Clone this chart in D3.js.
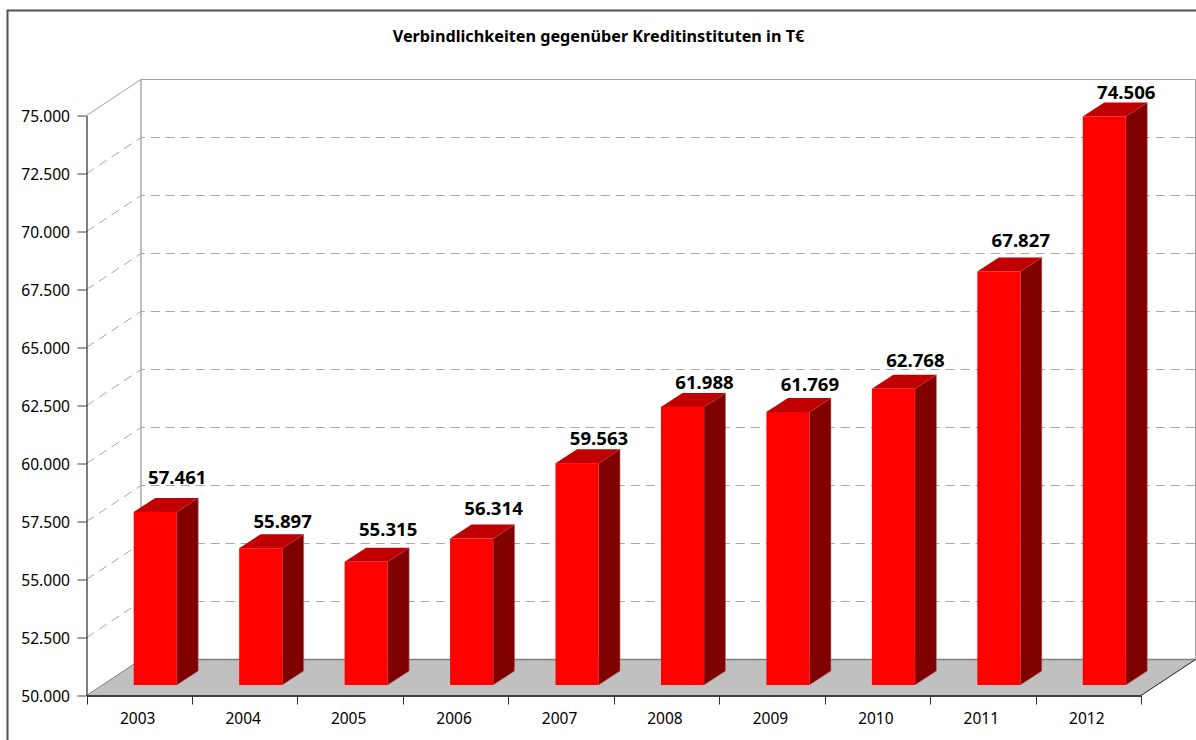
<!DOCTYPE html>
<html>
<head>
<meta charset="utf-8">
<script src="https://cdn.jsdelivr.net/npm/d3@7"></script>
<style>
    html, body { margin: 0; padding: 0; background: #fff; overflow: hidden; }
    svg { display: block; }
    text { font-family: "Noto Sans", sans-serif; fill: #000; }
</style>
</head>
<body>
<script>
var titleText = "Verbindlichkeiten gegenüber Kreditinstituten in T€";
var years = ["2003", "2004", "2005", "2006", "2007", "2008", "2009", "2010", "2011", "2012"];
var values = [57461, 55897, 55315, 56314, 59563, 61988, 61769, 62768, 67827, 74506];
var ticks = [50000, 52500, 55000, 57500, 60000, 62500, 65000, 67500, 70000, 72500, 75000];

var w = 1196, h = 740;
var left = 86.5, right = 1141, bottom = 695.5, top_ = 115.5;
var wallX = 54.5, wallY = 36;        // depth of the floor / side wall
var barDX = 16, barDY = 10.5;        // bar front sits this far into the floor
var sideX = 21.5, sideY = 14;        // depth of one bar
var barW = 43;
// labels are not placed evenly in the original, lift above bar top
var labelLift = [20, 12, 18, 16, 10, 10, 13, 14, 16, 9];

var de = d3.formatLocale({decimal: ",", thousands: ".", grouping: [3], currency: ["", "€"]}).format(",");

var x = d3.scaleBand().domain(years).range([left, right]);
var y = d3.scaleLinear().domain([50000, 75000]).range([bottom, top_]);

var svg = d3.select("body").append("svg").attr("width", w).attr("height", h);

/* outer frame */
svg.append("path")
    .attr("d", "M7.5,740V10.5H1196")
    .attr("fill", "none").attr("stroke", "#505050").attr("stroke-width", 2);

svg.append("text")
    .attr("x", 598.5).attr("y", 41.5)
    .attr("text-anchor", "middle")
    .style("font-size", "16.2px").style("font-weight", "bold")
    .text(titleText);

/* walls */
var wallTop = y(75000) - wallY;
svg.append("path")
    .attr("d", "M" + left + "," + y(75000) + "L" + (left + wallX) + "," + wallTop + "H" + (right + wallX) + "V" + (bottom - wallY))
    .attr("fill", "none").attr("stroke", "#a0a0a0").attr("stroke-width", 1);
svg.append("line")
    .attr("x1", left + wallX).attr("x2", left + wallX)
    .attr("y1", wallTop).attr("y2", bottom - wallY)
    .attr("stroke", "#a8a8a8").attr("stroke-width", 1.5);

/* grid */
var gridTicks = ticks.filter(function(d) { return d > 50000 && d < 75000; });
svg.selectAll(".grid")
    .data(gridTicks)
    .enter()
    .append("path")
        .attr("class", "grid")
        .attr("d", function(d) {
            return "M" + left + "," + y(d) + "L" + (left + wallX) + "," + (y(d) - wallY) + "H" + (right + wallX);
        })
        .attr("fill", "none")
        .attr("stroke", "#a8a8a8")
        .attr("stroke-dasharray", "9,6");

/* floor */
svg.append("path")
    .attr("d", "M" + left + "," + bottom + "L" + (left + wallX) + "," + (bottom - wallY) + "H" + (right + wallX) + "L" + right + "," + bottom + "Z")
    .attr("fill", "#c0c0c0");
svg.append("line")
    .attr("x1", left + wallX).attr("x2", right + wallX)
    .attr("y1", bottom - wallY).attr("y2", bottom - wallY)
    .attr("stroke", "#808080").attr("stroke-width", 1.5);
svg.append("line")
    .attr("x1", left).attr("x2", left + wallX)
    .attr("y1", bottom).attr("y2", bottom - wallY)
    .attr("stroke", "#808080");
svg.append("line")
    .attr("x1", right).attr("x2", right + wallX)
    .attr("y1", bottom).attr("y2", bottom - wallY)
    .attr("stroke", "#202020");

/* axes */
var yAxis = d3.axisLeft(y).tickValues(ticks).tickSizeOuter(0).tickFormat(de);
var gy = svg.append("g").attr("transform", "translate(" + left + ",0)").call(yAxis);
gy.select(".domain").attr("stroke", "#000");
gy.selectAll(".tick line").attr("x1", -9).attr("x2", 0).attr("stroke", "#404040");
gy.selectAll(".tick text").attr("x", -16.5).attr("dy", "0.36em")
    .style("font-size", "15.6px").style("font-family", "'Noto Sans', sans-serif");

var xAxis = d3.axisBottom(x).tickSize(0).tickPadding(17);
var gx = svg.append("g").attr("transform", "translate(0," + bottom + ")").call(xAxis);
gx.select(".domain").attr("stroke", "#404040").attr("stroke-width", 2);
gx.selectAll(".tick text").attr("dx", -1.5)
    .style("font-size", "15.5px").style("font-family", "'Noto Sans', sans-serif");
gx.selectAll(".sep")
    .data(years.concat(["end"]))
    .enter()
    .append("line")
        .attr("class", "sep")
        .attr("x1", function(d, i) { return Math.round(left + i * x.bandwidth()) + 0.5; })
        .attr("x2", function(d, i) { return Math.round(left + i * x.bandwidth()) + 0.5; })
        .attr("y1", 0).attr("y2", 9)
        .attr("stroke", "#303030");

/* bars */
var bars = svg.selectAll(".bar")
    .data(years)
    .enter()
    .append("g")
        .attr("class", "bar");

function barLeft(i) { return x(years[i]) + x.bandwidth() / 2 + barDX - barW / 2; }
function barTop(i) { return y(values[i]) - barDY; }

bars.append("path")   // side
    .attr("d", function(d, i) {
        var r = barLeft(i) + barW;
        return "M" + r + "," + barTop(i) + "l" + sideX + "," + (-sideY) + "V" + (bottom - barDY - sideY) + "l" + (-sideX) + "," + sideY + "Z";
    })
    .attr("fill", "#800000")
    .attr("stroke", "#b07070")
    .attr("stroke-width", 0.6);
bars.append("path")   // top
    .attr("d", function(d, i) {
        var l = barLeft(i);
        return "M" + l + "," + barTop(i) + "l" + sideX + "," + (-sideY) + "h" + barW + "l" + (-sideX) + "," + sideY + "Z";
    })
    .attr("fill", "#c00000");
bars.append("rect")   // front
    .attr("x", function(d, i) { return barLeft(i); })
    .attr("y", function(d, i) { return barTop(i); })
    .attr("width", barW)
    .attr("height", function(d, i) { return bottom - barDY - barTop(i); })
    .attr("fill", "#ff0000");

svg.selectAll(".val")
    .data(values)
    .enter()
    .append("text")
        .attr("class", "val")
        .attr("x", function(d, i) { return barLeft(i) + barW / 2 + 22; })
        .attr("y", function(d, i) { return barTop(i) - sideY - labelLift[i] + 6; })
        .attr("text-anchor", "middle")
        .style("font-size", "18.6px")
        .style("font-weight", "bold")
        .text(function(d) { return de(d); });
</script>
</body>
</html>
